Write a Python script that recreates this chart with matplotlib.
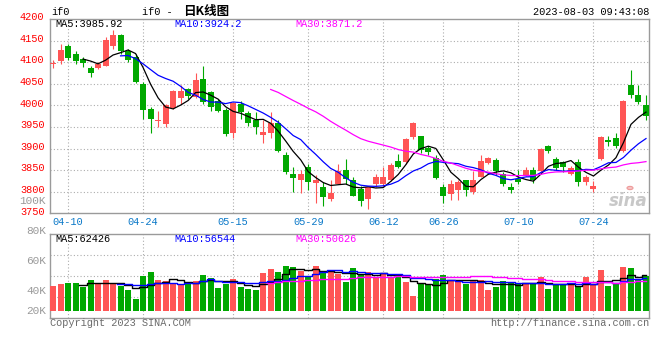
import matplotlib
matplotlib.use('Agg')
import matplotlib.pyplot as plt
import matplotlib.transforms as mtransforms
import numpy as np
import pandas as pd

# ---------------- data ----------------
holidays = ['2023-05-01', '2023-05-02', '2023-05-03', '2023-06-22', '2023-06-23']
trade_dates = [d for d in pd.bdate_range('2023-04-06', '2023-08-02')
               if d.strftime('%Y-%m-%d') not in holidays]

opens = [4096, 4102, 4138, 4119, 4108, 4086, 4086, 4092, 4137, 4162,
         4127, 4113, 4050, 3992, 3963, 3956, 3994, 4017, 4037, 4019,
         4061, 4030, 4011, 3990, 3935, 4002, 3982, 3967, 3932, 3935,
         3959, 3886, 3840, 3826, 3858, 3821, 3810, 3783, 3818, 3851,
         3828, 3807, 3784, 3817, 3818, 3826, 3871, 3868, 3926, 3928,
         3901, 3879, 3812, 3794, 3804, 3826, 3799, 3835, 3866, 3874,
         3840, 3812, 3830, 3838, 3851, 3847, 3905, 3875, 3868, 3841,
         3868, 3822, 3807, 3875, 3919, 3925, 3895, 4048, 4023, 4000]
highs = [4106, 4142, 4141, 4127, 4113, 4092, 4100, 4158, 4175, 4165,
         4130, 4120, 4054, 3997, 3988, 4004, 4036, 4046, 4040, 4074,
         4092, 4033, 4015, 3995, 4008, 4010, 3988, 3984, 3967, 3984,
         3965, 3892, 3857, 3851, 3865, 3838, 3822, 3826, 3865, 3876,
         3833, 3814, 3812, 3840, 3858, 3866, 3888, 3925, 3961, 3930,
         3905, 3884, 3817, 3826, 3826, 3828, 3849, 3886, 3881, 3877,
         3845, 3820, 3851, 3857, 3857, 3901, 3908, 3880, 3872, 3860,
         3875, 3838, 3825, 3928, 3928, 3936, 4012, 4083, 4048, 4023]
lows = [4086, 4096, 4104, 4095, 4088, 4065, 4084, 4090, 4130, 4119,
        4100, 4052, 3969, 3935, 3949, 3951, 3992, 4004, 4015, 4016,
        4004, 3988, 3985, 3930, 3925, 3969, 3952, 3934, 3912, 3925,
        3892, 3840, 3799, 3797, 3803, 3773, 3768, 3778, 3817, 3817,
        3789, 3766, 3760, 3812, 3810, 3825, 3855, 3865, 3922, 3890,
        3885, 3830, 3773, 3780, 3780, 3790, 3795, 3834, 3864, 3838,
        3813, 3797, 3818, 3836, 3820, 3845, 3889, 3850, 3845, 3838,
        3813, 3815, 3800, 3873, 3905, 3902, 3893, 4018, 4002, 3965]
closes = [4098, 4128, 4110, 4102, 4098, 4075, 4096, 4152, 4162, 4125,
          4106, 4055, 3990, 3969, 3967, 4000, 4033, 4034, 4022, 4059,
          4007, 3996, 3988, 3934, 4005, 3985, 3959, 3951, 3938, 3959,
          3894, 3845, 3831, 3840, 3822, 3826, 3787, 3797, 3849, 3830,
          3791, 3778, 3810, 3834, 3835, 3863, 3858, 3922, 3959, 3897,
          3891, 3832, 3789, 3817, 3822, 3803, 3826, 3872, 3879, 3847,
          3817, 3804, 3822, 3851, 3828, 3899, 3894, 3855, 3858, 3855,
          3822, 3834, 3813, 3926, 3914, 3907, 4009, 4024, 4007, 3975]
volumes = [42750, 46170, 47880, 47880, 41040, 53010, 47880, 53010, 46170, 42750,
           35910, 20520, 59850, 66690, 53010, 51300, 46170, 44460, 49590, 51300,
           61560, 56430, 39330, 46170, 54720, 41040, 37620, 35910, 64980, 71820,
           66690, 76950, 75240, 68400, 59850, 76950, 64980, 70110, 63270, 49590,
           73530, 63270, 66690, 58140, 64980, 58140, 59850, 49590, 25650, 47880,
           46170, 54720, 61560, 53010, 53010, 46170, 53010, 53010, 35910, 41040,
           51300, 49590, 47880, 46170, 47880, 58140, 37620, 44460, 44460, 44460,
           42750, 58140, 44460, 70110, 42750, 46170, 75240, 73530, 54720, 59850]

x_tick_labels = ['04-10', '04-24', '05-15', '05-29', '06-12', '06-26', '07-10', '07-24']
price_ticks = [4200, 4150, 4100, 4050, 4000, 3950, 3900, 3850, 3800, 3750]
vol_tick_labels = ['100K', '80K', '60K', '40K', '20K']
price_ma_text = ['MA5:3985.92', 'MA10:3924.2', 'MA30:3871.2']
vol_ma_text = ['MA5:62426', 'MA10:56544', 'MA30:50626']
ma_windows = [5, 10, 30]

# ---------------- style ----------------
W, H = 660, 360
MONO = 'Liberation Mono'
FS = 7.4
RED = '#FF5555'
GREEN = '#00A800'
MA_COLORS = ['#000000', '#0000FF', '#FF00FF']
GRID = '#ADADAD'
SPINE = '#9A9A9A'
XLAB = '#0A78C8'

def P(x, y):
    return x / W, 1 - y / H

plt.rcParams['font.family'] = [MONO, 'DejaVu Sans Mono', 'Noto Sans CJK SC']
fig = plt.figure(figsize=(6.6, 3.6), dpi=100)
fig.patch.set_facecolor('white')

L, R = 50, 649.3
MT, MB = 19, 213.3
VT, VB = 234.3, 317.7
ax = fig.add_axes([L / W, 1 - MB / H, (R - L) / W, (MB - MT) / H])
axv = fig.add_axes([L / W, 1 - VB / H, (R - L) / W, (VB - VT) / H])

n = len(closes)
xs = np.arange(n)
o = np.array(opens, float); c = np.array(closes, float)
h = np.array(highs, float); lo = np.array(lows, float)
up = c >= o
cols = [RED if u else GREEN for u in up]

# candles
ax.vlines(xs, lo, h, colors=cols, linewidth=0.8, zorder=3)
body_bottom = np.minimum(o, c)
body_h = np.maximum(np.abs(c - o), 1.6)
ax.bar(xs, body_h, bottom=body_bottom, width=0.8, color=cols, linewidth=0, zorder=4)

# moving averages
cs = pd.Series(c)
for w, col in zip(ma_windows, MA_COLORS):
    ax.plot(xs, cs.rolling(w).mean(), color=col, linewidth=0.9, zorder=5)

date_str = [d.strftime('%m-%d') for d in trade_dates]
tick_pos = [date_str.index(t) for t in x_tick_labels]

for a in (ax, axv):
    a.set_xlim(-0.4, n - 1 + 0.44)
    a.set_xticks(tick_pos)
    a.grid(axis='x', color=GRID, linestyle=(0, (1, 2)), linewidth=0.8)
    a.tick_params(length=0)
    for s in a.spines.values():
        s.set_color(SPINE)
        s.set_linewidth(1.0)
    a.set_axisbelow(True)
    a.set_facecolor('white')

ax.set_ylim(3750, 4200)
ax.set_xticklabels(x_tick_labels, color=XLAB, fontsize=FS, fontfamily=MONO)
ax.tick_params(axis='x', pad=3)
ax.set_yticks(price_ticks)
ax.set_yticklabels([str(t) for t in price_ticks], color='#FF0000', fontsize=FS, fontfamily=MONO)
ax.tick_params(axis='y', pad=4)
offset = mtransforms.ScaledTranslation(0, 2 / 72, fig.dpi_scale_trans)
for lbl in ax.get_yticklabels():
    lbl.set_transform(lbl.get_transform() + offset)
for t in price_ticks[1:-1]:
    ax.axhline(t, color=GRID, linestyle=(0, (1, 2)), linewidth=0.8, zorder=1)

# volume
vol = np.array(volumes, float)
axv.bar(xs, vol, width=0.8, color=cols, linewidth=0, zorder=3)
vs = pd.Series(vol)
for w, col in zip(ma_windows, MA_COLORS):
    axv.plot(xs, vs.rolling(w).mean(), color=col, linewidth=1.0,
             drawstyle='steps-mid', zorder=4)
axv.set_ylim(-11500, 131000)
axv.set_yticks([])
axv.set_xticklabels([])
for f in (0.25, 0.5, 0.75):
    axv.plot([0, 1], [f, f], transform=axv.transAxes, color=GRID,
             linestyle=(0, (1, 2)), linewidth=0.8, zorder=1)

# volume axis labels (Sina places them on its own label grid)
vol_label_y = [201, 230.7, 260.7, 290.7, 310.7]
for lbl, yy in zip(vol_tick_labels, vol_label_y):
    fig.text(*P(46, yy), lbl, ha='right', va='center', color='#9A9A9A',
             fontsize=FS + 0.6, fontfamily=MONO)

# headers
fig.text(*P(51, 12.3), 'if0', ha='left', va='center', fontsize=FS, fontfamily=MONO)
fig.text(*P(141.7, 12.0), 'if0 -', ha='left', va='center', fontsize=FS, fontfamily=MONO)
fig.text(*P(182.7, 11.7), '日K线图', ha='left', va='center', fontsize=9,
         fontfamily=['Noto Sans CJK SC'], fontweight='bold')
fig.text(*P(649.3, 11.7), '2023-08-03 09:43:08', ha='right', va='center',
         fontsize=FS, fontfamily=MONO)

ma_x = [55, 174, 295]
for txt, xx, col in zip(price_ma_text, ma_x, MA_COLORS):
    fig.text(*P(xx, 24), txt, ha='left', va='center', color=col, fontsize=FS, fontfamily=MONO)
for txt, xx, col in zip(vol_ma_text, ma_x, MA_COLORS):
    fig.text(*P(xx, 239.5), txt, ha='left', va='center', color=col, fontsize=FS, fontfamily=MONO)

fig.text(*P(50, 323.3), 'Copyright 2023 SINA.COM', ha='left', va='center',
         color='#6A6A6A', fontsize=FS, fontfamily=MONO)
fig.text(*P(649.3, 323.3), 'http://finance.sina.com.cn', ha='right', va='center',
         color='#6A6A6A', fontsize=FS, fontfamily=MONO)

# sina watermark
fig.text(*P(648, 201), 'sina', ha='right', va='center', color='#C8C8C8',
         fontsize=12, fontstyle='italic', fontweight='bold', fontfamily='DejaVu Sans')
fig.patches.append(plt.Circle(P(630, 188), 3 / W, transform=fig.transFigure,
                              facecolor='#F6C4C4', edgecolor='#EE9A9A', linewidth=0.8))

fig.savefig('out.png', dpi=100, facecolor='white')
